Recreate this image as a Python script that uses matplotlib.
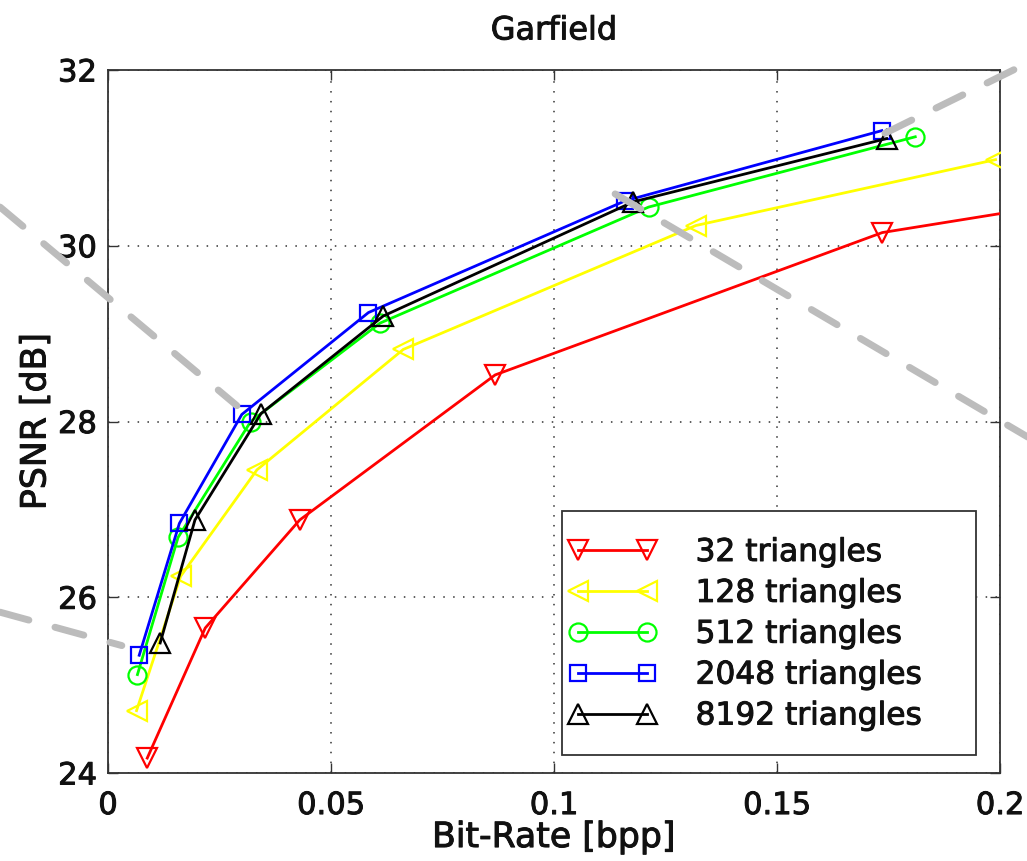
import matplotlib
matplotlib.use("Agg")
import matplotlib.pyplot as plt
import matplotlib.patheffects as pe
from matplotlib.patches import Rectangle

plt.rcParams["font.family"] = ["DejaVu Sans"]
plt.rcParams["lines.scale_dashes"] = False

# Rate-distortion results for the Garfield sequence
rate_32 = [0.0088, 0.0218, 0.0430, 0.0868, 0.1736, 0.3450]
psnr_32 = [24.17, 25.65, 26.88, 28.53, 30.15, 31.55]

rate_128 = [0.0064, 0.0163, 0.0334, 0.0662, 0.1318, 0.1990]
psnr_128 = [24.71, 26.24, 27.45, 28.82, 30.23, 30.98]

rate_512 = [0.0066, 0.0157, 0.0320, 0.0610, 0.1212, 0.1810]
psnr_512 = [25.12, 26.68, 28.00, 29.12, 30.44, 31.24]

rate_2048 = [0.0070, 0.0160, 0.0300, 0.0584, 0.1159, 0.1735]
psnr_2048 = [25.34, 26.84, 28.08, 29.24, 30.51, 31.31]

rate_8192 = [0.0117, 0.0195, 0.0343, 0.0617, 0.1178, 0.1746]
psnr_8192 = [25.48, 26.88, 28.09, 29.20, 30.50, 31.22]

labels = ["32 triangles", "128 triangles", "512 triangles",
          "2048 triangles", "8192 triangles"]

x_ticks = [0, 0.05, 0.1, 0.15, 0.2]
x_tick_labels = ["0", "0.05", "0.1", "0.15", "0.2"]
y_ticks = [24, 26, 28, 30, 32]
y_tick_labels = ["24", "26", "28", "30", "32"]

# Dashed callout segments (data coordinates, extending past the axes)
callout_x = [(-0.0242, 0.0289), (-0.0242, 0.0031), (0.1742, 0.2070), (0.1137, 0.2070)]
callout_y = [(30.44, 28.18), (25.83, 25.45), (31.28, 32.10), (30.59, 27.80)]

TEXT = "#111111"
heavier = [pe.withStroke(linewidth=0.7, foreground=TEXT)]

W, H = 1027, 861
fig = plt.figure(figsize=(W / 100, H / 100), dpi=100)
fig.patch.set_facecolor("white")
ax = fig.add_axes([108 / W, 1 - 773 / H, (1000 - 108) / W, (773 - 70) / H])

styles = [
    ("v", "#ff0000", 15),
    ("<", "#ffff00", 15),
    ("o", "#00ff00", 13),
    ("s", "#0000ff", 12),
    ("^", "#000000", 15),
]
data = [(rate_32, psnr_32), (rate_128, psnr_128), (rate_512, psnr_512),
        (rate_2048, psnr_2048), (rate_8192, psnr_8192)]

for (xs, ys), (mk, col, ms), lab in zip(data, styles, labels):
    ax.plot(xs, ys, color=col, lw=2.0, marker=mk, ms=ms, mfc="none",
            mec=col, mew=1.6, label=lab, zorder=3)

ax.set_xlim(0, 0.2)
ax.set_ylim(24, 32)
ax.set_xticks(x_ticks)
ax.set_xticklabels(x_tick_labels)
ax.set_yticks(y_ticks)
ax.set_yticklabels(y_tick_labels)

ax.grid(True, color="0.2", linestyle=(0, (1.1, 6.0)), linewidth=1.1)
ax.tick_params(direction="in", length=7, width=1.0, top=True, right=True,
               labelsize=22, colors="#333333", labelcolor=TEXT, pad=13)
ax.tick_params(axis="y", pad=8)
for sp in ax.spines.values():
    sp.set_linewidth(1.3)
    sp.set_color("#333333")

ax.set_title("Garfield", fontsize=23, pad=22, color=TEXT)
ax.set_xlabel("Bit-Rate [bpp]", fontsize=25, labelpad=0, color=TEXT)
ax.set_ylabel("PSNR [dB]", fontsize=25, labelpad=4, color=TEXT)

# Legend frame with white fill, legend text placed inside it
frame = Rectangle((562 / W, 1 - 755 / H), (976 - 562) / W, (755 - 511) / H,
                  transform=fig.transFigure, facecolor="white",
                  edgecolor="#333333", lw=1.3, zorder=4, clip_on=False)
ax.add_patch(frame)
leg = ax.legend(loc="upper left", bbox_to_anchor=(569 / W, 1 - 538 / H),
                bbox_transform=fig.transFigure, frameon=False, fontsize=22.5,
                numpoints=2, handlelength=2.8, handletextpad=1.25,
                labelspacing=0.38, borderpad=0, borderaxespad=0)
leg.set_zorder(5)
for t in leg.get_texts():
    t.set_color(TEXT)

# slightly heavier text strokes
for t in (ax.get_xticklabels() + ax.get_yticklabels() + leg.get_texts()
          + [ax.title, ax.xaxis.label, ax.yaxis.label]):
    t.set_path_effects(heavier)

# dash pattern in points: ~30 px dash + round caps, ~27 px gap
for xs, ys in zip(callout_x, callout_y):
    ax.plot(xs, ys, color="#bcbcbc", lw=5.0, clip_on=False, zorder=6,
            linestyle=(0, (21.5, 19.5)), dash_capstyle="round")

fig.savefig("out.png", dpi=100, facecolor="white")
